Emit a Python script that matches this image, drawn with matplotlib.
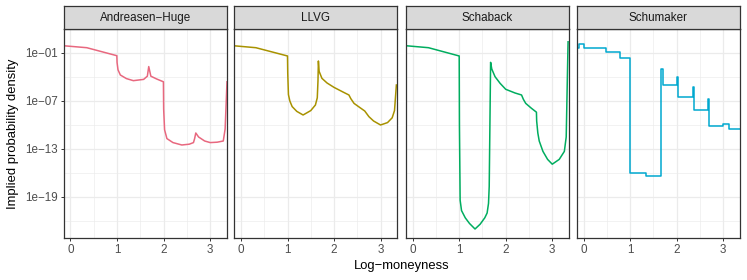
import numpy as np
import matplotlib
matplotlib.use("Agg")
import matplotlib.pyplot as plt
from matplotlib.ticker import FixedLocator, NullFormatter

plt.rcParams['font.family'] = ['Liberation Sans', 'DejaVu Sans']

methods = ["Andreasen\u2212Huge", "LLVG", "Schaback", "Schumaker"]
colors = ["#E8687F", "#A89200", "#00AD5F", "#00A8CF"]

# log10 of implied density vs log-moneyness
ah_x = [-0.16, 0.35, 0.995, 1.0, 1.02, 1.07, 1.2, 1.35, 1.57, 1.65, 1.68, 1.725, 1.85, 1.995,
        2.0, 2.02, 2.07, 2.2, 2.39, 2.55, 2.64, 2.665, 2.69, 2.75, 2.88, 3.0, 3.15, 3.28, 3.32, 3.36]
ah_y = [-0.09, -0.34, -1.34, -2.2, -3.1, -3.75, -4.2, -4.46, -4.3, -3.9, -2.7, -3.9, -4.25, -4.6,
        -8.0, -10.6, -11.7, -12.2, -12.5, -12.4, -12.2, -11.7, -11.0, -11.5, -12.0, -12.2, -12.15, -12.0, -10.5, -4.6]

llvg_x = [-0.17, 0.32, 1.0, 1.005, 1.02, 1.05, 1.1, 1.2, 1.335, 1.5, 1.6, 1.64, 1.655, 1.664,
          1.68, 1.74, 1.85, 2.0, 2.2, 2.32, 2.36, 2.43, 2.55, 2.66, 2.75, 2.85, 3.0, 3.15, 3.25, 3.3, 3.34]
llvg_y = [-0.09, -0.34, -1.375, -3.5, -6.2, -7.0, -7.7, -8.3, -8.75, -8.2, -7.5, -6.6, -4.5, -2.0,
          -3.3, -4.17, -4.75, -5.3, -5.9, -6.25, -6.7, -7.3, -7.8, -8.25, -8.96, -9.5, -10.0, -9.7, -9.1, -8.2, -5.0]

sch_x = [-0.15, 0.34, 1.0, 1.005, 1.02, 1.05, 1.13, 1.22, 1.34, 1.45, 1.55, 1.6, 1.63, 1.645,
         1.66, 1.675, 1.7, 1.77, 1.88, 2.0, 2.2, 2.34, 2.38, 2.43, 2.55, 2.66, 2.665, 2.69, 2.72,
         2.8, 2.9, 3.0, 3.15, 3.26, 3.3, 3.34]
sch_y = [-0.09, -0.34, -1.375, -10.0, -19.4, -20.7, -21.6, -22.3, -23.0, -22.4, -21.6, -21.0, -19.8, -17.7,
         -10.0, -2.17, -3.0, -3.96, -4.8, -5.54, -6.0, -6.25, -6.8, -7.3, -7.9, -8.4, -9.5, -11.0, -12.0,
         -13.3, -14.3, -14.9, -14.3, -13.3, -11.5, 0.4]

shu_edges = [-0.2, -0.09, 0.0, 0.34, 0.48, 0.77, 1.0, 1.34, 1.665, 1.695, 2.0, 2.03, 2.34, 2.37,
             2.67, 2.70, 3.0, 3.13, 3.5]
shu_vals = [-0.41, 0.17, -0.34, -0.41, -0.84, -1.66, -16.04, -16.33, -3.0, -5.0, -4.04, -6.46,
            -5.3, -8.1, -6.8, -10.1, -9.9, -10.5]

W, H = 747, 280
fig = plt.figure(figsize=(W / 100, H / 100), dpi=100)

panels = [(63.5, 227.0), (234.0, 397.3), (405.7, 569.0), (576.7, 740.0)]
top, bottom = 29.3, 238.0
strip_top = 6.0

ylog_lo, ylog_hi = -24.125, 1.96
xlo, xhi = -0.15, 3.36

grid_c = "#EBEBEB"
border_c = "#333333"

def logy(v):
    return [10.0 ** a for a in v]

for i, (l, r) in enumerate(panels):
    ax = fig.add_axes([l / W, 1 - bottom / H, (r - l) / W, (bottom - top) / H])
    ax.set_yscale('log')
    ax.set_xlim(xlo, xhi)
    ax.set_ylim(10 ** ylog_lo, 10 ** ylog_hi)
    ax.yaxis.set_major_locator(FixedLocator([1e-1, 1e-7, 1e-13, 1e-19]))
    ax.yaxis.set_minor_locator(FixedLocator([1e2, 1e-4, 1e-10, 1e-16, 1e-22]))
    ax.yaxis.set_minor_formatter(NullFormatter())
    ax.xaxis.set_major_locator(FixedLocator([0, 1, 2, 3]))
    ax.xaxis.set_minor_locator(FixedLocator([0.5, 1.5, 2.5]))
    ax.grid(True, which='major', color=grid_c, lw=0.9, zorder=0)
    ax.grid(True, which='minor', color=grid_c, lw=0.45, zorder=0)
    ax.set_axisbelow(True)
    ax.tick_params(which='minor', length=0)
    ax.tick_params(which='major', length=2.3, width=0.7, color=border_c,
                   labelsize=8.4, labelcolor="#4D4D4D", pad=2)
    ax.set_xticklabels(["0", "1", "2", "3"])
    if i == 0:
        ax.set_yticklabels(["1e\u221201", "1e\u221207", "1e\u221213", "1e\u221219"])
        ax.set_ylabel("Implied probability density", fontsize=9.4, labelpad=4)
    else:
        ax.tick_params(axis='y', which='both', left=False, labelleft=False)
    for s in ax.spines.values():
        s.set_color(border_c)
        s.set_linewidth(0.9)

    c = colors[i]
    if i == 0:
        ax.plot(ah_x, logy(ah_y), color=c, lw=1.1)
    elif i == 1:
        ax.plot(llvg_x, logy(llvg_y), color=c, lw=1.1)
    elif i == 2:
        ax.plot(sch_x, logy(sch_y), color=c, lw=1.1)
    else:
        vals = logy(shu_vals + [shu_vals[-1]])
        ax.step(shu_edges, vals, where='post', color=c, lw=1.1)

    sax = fig.add_axes([l / W, 1 - top / H, (r - l) / W, (top - strip_top) / H])
    sax.set_facecolor("#D9D9D9")
    sax.set_xticks([]); sax.set_yticks([])
    for s in sax.spines.values():
        s.set_color(border_c)
        s.set_linewidth(0.9)
    sax.text(0.5, 0.5, methods[i], ha='center', va='center', fontsize=8.4,
             color="#1A1A1A", transform=sax.transAxes)

fig.text((63.5 + 740) / 2 / W, 1 - 266 / H, "Log\u2212moneyness", ha='center', va='center',
         fontsize=9.4)

fig.savefig("out.png", dpi=100)
